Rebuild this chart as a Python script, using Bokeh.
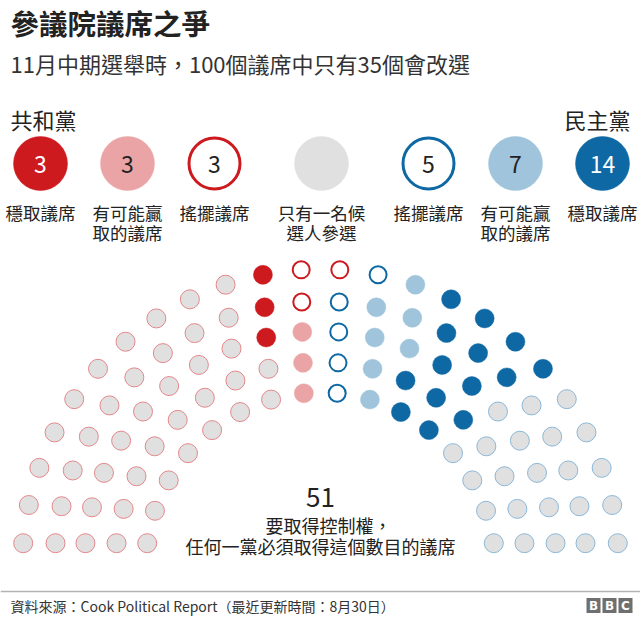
import numpy as np
from bokeh.plotting import figure
from bokeh.models import ColumnDataSource, Range1d
from bokeh.core.properties import value
from bokeh.embed import file_html
from bokeh.resources import INLINE

# ---------------- data ----------------
title = "參議院議席之爭"
subtitle = "11月中期選舉時，100個議席中只有35個會改選"
party_left = "共和黨"
party_right = "民主黨"
legend_keys = ["rep_solid", "rep_likely", "rep_toss", "single", "dem_toss", "dem_likely", "dem_solid"]
legend_counts = ["3", "3", "3", "", "5", "7", "14"]
legend_line1 = ["穩取議席", "有可能贏", "搖擺議席", "只有一名候", "搖擺議席", "有可能贏", "穩取議席"]
legend_line2 = ["", "取的議席", "", "選人參選", "", "取的議席", ""]
seat_groups = ["rep_other", "rep_solid", "rep_likely", "rep_toss",
               "dem_toss", "dem_likely", "dem_solid", "dem_other"]
seat_counts = [42, 3, 3, 3, 5, 7, 14, 23]
ring_sizes = [16, 18, 20, 22, 24]
majority = "51"
majority_note = ["要取得控制權，", "任何一黨必須取得這個數目的議席"]
source_note = "資料來源：Cook Political Report（最近更新時間：8月30日）"
logo_letters = ["B", "B", "C"]

# ---------------- styles ----------------
FONT = "Noto Sans CJK TC"
TXT = "#222222"
RED = "#cc1a1f"
PINK = "#eba4a6"
BLUE = "#0e68a4"
LBLUE = "#9fc4db"
GREY = "#e0e0e0"
style = {
    "rep_other": dict(fill=GREY, line="#e5878b", lw=1, size=19),
    "rep_solid": dict(fill=RED, line=RED, lw=0.5, size=19),
    "rep_likely": dict(fill=PINK, line=PINK, lw=0.5, size=19),
    "rep_toss": dict(fill="white", line=RED, lw=2, size=17),
    "dem_toss": dict(fill="white", line=BLUE, lw=2, size=17),
    "dem_likely": dict(fill=LBLUE, line=LBLUE, lw=0.5, size=19),
    "dem_solid": dict(fill=BLUE, line=BLUE, lw=0.5, size=19),
    "dem_other": dict(fill=GREY, line="#8bb8d8", lw=1, size=19),
    "single": dict(fill=GREY, line=GREY, lw=0.5, size=19),
}
num_color = {"rep_solid": "white", "dem_solid": "white"}

p = figure(width=640, height=618, x_range=Range1d(0, 640), y_range=Range1d(618, 0),
           output_backend="svg", toolbar_location=None, min_border=0,
           x_axis_location=None, y_axis_location=None)
p.grid.visible = False
p.outline_line_color = None
p.background_fill_color = "white"
p.border_fill_color = "white"


def txt(x, y, s, size, align="left", color=TXT, style_="normal"):
    p.text(x=[x], y=[y], text=[s], text_font=value(FONT), text_font_size=value(size),
           text_align=align, text_baseline="middle", text_color=color,
           text_font_style=style_)


# ---------------- header ----------------
txt(10, 22, title, "28.5px", style_="bold")
txt(10, 62, subtitle, "22px", color="#333333")
txt(10, 118, party_left, "22px")
txt(630, 118, party_right, "22px", align="right")

# ---------------- legend ----------------
leg_x = [40, 127, 214, 321, 428, 515, 602]
leg_y = 163
for i, k in enumerate(legend_keys):
    st = style[k]
    big = 54 if st["lw"] < 1.5 else 51
    lw = 3 if st["lw"] >= 1.5 else 0.5
    p.scatter(x=[leg_x[i]], y=[leg_y], size=big, fill_color=st["fill"],
              line_color=st["line"] if k != "single" else GREY, line_width=lw)
    if legend_counts[i]:
        txt(leg_x[i], leg_y + 1, legend_counts[i], "23px", align="center",
            color=num_color.get(k, TXT))
    txt(leg_x[i], 212, legend_line1[i], "17.5px", align="center")
    if legend_line2[i]:
        txt(leg_x[i], 232, legend_line2[i], "17.5px", align="center")

# ---------------- hemicycle ----------------
cx, cy = 320.0, 567.0
radii = [175.0, 205.4, 236.3, 266.1, 298.3]
yoff = 24.3
xs, ys, th = [], [], []
for n, r in zip(ring_sizes, radii):
    t0 = np.arcsin(yoff / r)
    t = np.linspace(t0, np.pi - t0, n)
    xs.extend(cx - r * np.cos(t))
    ys.extend(cy - r * np.sin(t))
    th.extend(t)
order = np.argsort(np.array(th), kind="stable")
xs = np.array(xs)[order]
ys = np.array(ys)[order]
groups = np.repeat(seat_groups, seat_counts)

for g in seat_groups:
    m = groups == g
    st = style[g]
    src = ColumnDataSource(dict(x=xs[m], y=ys[m]))
    p.scatter("x", "y", source=src, size=st["size"], fill_color=st["fill"],
              line_color=st["line"], line_width=st["lw"])

# ---------------- majority note ----------------
txt(320, 497, majority, "26px", align="center")
txt(328, 524, majority_note[0], "18px", align="center")
txt(320, 545, majority_note[1], "18px", align="center")

# ---------------- footer ----------------
p.segment(x0=[0], y0=[591], x1=[640], y1=[591], line_color="#b3b3b3", line_width=1.5)
txt(10, 605, source_note, "14px", color="#333333")
lx = [593, 609, 625]
p.rect(x=lx, y=[605] * 3, width=14, height=15, fill_color="#6f6f6f", line_color=None)
for x, L in zip(lx, logo_letters):
    p.text(x=[x], y=[605.5], text=[L], text_font=value("DejaVu Sans"),
           text_font_size=value("12px"), text_align="center", text_baseline="middle",
           text_color="white", text_font_style="bold")

open("out.html", "w").write(file_html(p, INLINE))
